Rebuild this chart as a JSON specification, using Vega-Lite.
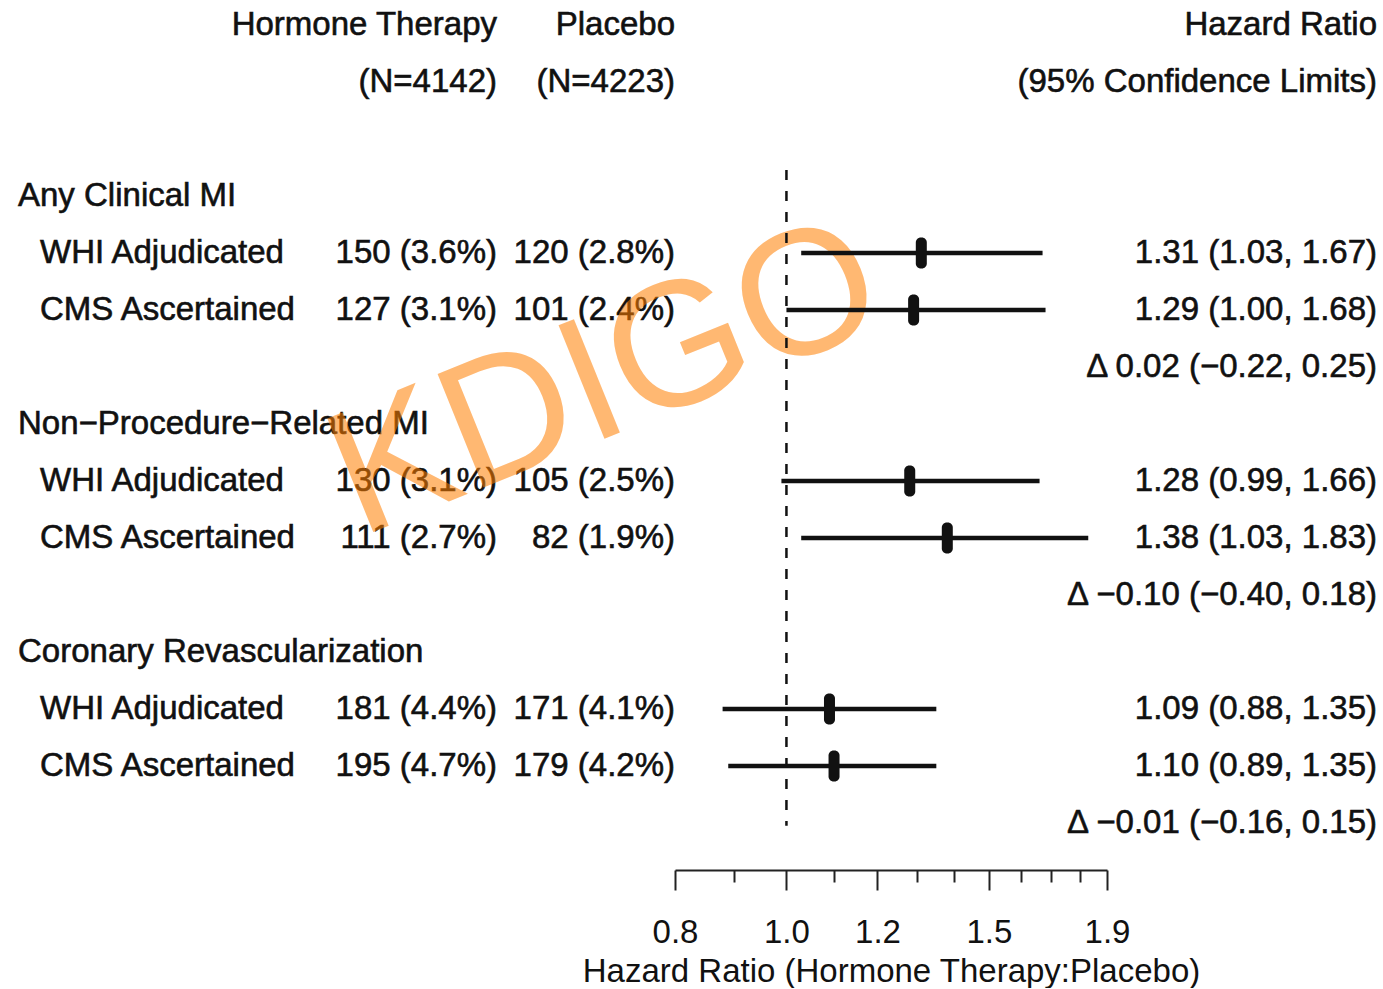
{
  "$schema": "https://vega.github.io/schema/vega-lite/v6.json",
  "background": "white",
  "padding": {"left": 18, "top": 0, "right": 6, "bottom": 0},
  "spacing": 0,
  "bounds": "flush",
  "config": {
    "view": {"stroke": null},
    "text": {"font": "Liberation Sans", "fontSize": 33, "color": "#111111", "baseline": "middle", "stroke": "#111111", "strokeWidth": 0.6},
    "axis": {
      "labelFont": "Liberation Sans",
      "titleFont": "Liberation Sans"
    }
  },
  "datasets": {
    "rows": [
      {"row": 0, "kind": "header", "ht": "Hormone Therapy", "pl": "Placebo", "hr": "Hazard Ratio"},
      {"row": 1, "kind": "header", "ht": "(N=4142)", "pl": "(N=4223)", "hr": "(95% Confidence Limits)"},
      {"row": 3, "kind": "group", "label": "Any Clinical MI"},
      {"row": 4, "kind": "sub", "label": "WHI Adjudicated", "ht": "150 (3.6%)", "pl": "120 (2.8%)", "hr": "1.31 (1.03, 1.67)", "est": 1.31, "lo": 1.03, "hi": 1.67},
      {"row": 5, "kind": "sub", "label": "CMS Ascertained", "ht": "127 (3.1%)", "pl": "101 (2.4%)", "hr": "1.29 (1.00, 1.68)", "est": 1.29, "lo": 1.00, "hi": 1.68},
      {"row": 6, "kind": "delta", "hr": "Δ 0.02 (−0.22, 0.25)"},
      {"row": 7, "kind": "group", "label": "Non−Procedure−Related MI"},
      {"row": 8, "kind": "sub", "label": "WHI Adjudicated", "ht": "130 (3.1%)", "pl": "105 (2.5%)", "hr": "1.28 (0.99, 1.66)", "est": 1.28, "lo": 0.99, "hi": 1.66},
      {"row": 9, "kind": "sub", "label": "CMS Ascertained", "ht": "111 (2.7%)", "pl": "82 (1.9%)", "hr": "1.38 (1.03, 1.83)", "est": 1.38, "lo": 1.03, "hi": 1.83},
      {"row": 10, "kind": "delta", "hr": "Δ −0.10 (−0.40, 0.18)"},
      {"row": 11, "kind": "group", "label": "Coronary Revascularization"},
      {"row": 12, "kind": "sub", "label": "WHI Adjudicated", "ht": "181 (4.4%)", "pl": "171 (4.1%)", "hr": "1.09 (0.88, 1.35)", "est": 1.09, "lo": 0.88, "hi": 1.35},
      {"row": 13, "kind": "sub", "label": "CMS Ascertained", "ht": "195 (4.7%)", "pl": "179 (4.2%)", "hr": "1.10 (0.89, 1.35)", "est": 1.10, "lo": 0.89, "hi": 1.35},
      {"row": 14, "kind": "delta", "hr": "Δ −0.01 (−0.16, 0.15)"}
    ],
    "watermark": [{"mark": "KDIGO"}]
  },
  "data": {"name": "rows"},
  "hconcat": [
    {
      "width": 300,
      "height": 870,
      "layer": [
        {
          "transform": [{"filter": "datum.kind === 'group'"}],
          "mark": {"type": "text", "align": "left"},
          "encoding": {
            "text": {"field": "label"},
            "x": {"datum": "start", "type": "nominal", "scale": {"type": "point", "domain": ["start"], "padding": 0, "align": 0}, "axis": null},
            "y": {"field": "row", "type": "quantitative", "scale": {"domain": [-0.4386, 14.825], "nice": false, "zero": false, "reverse": true}, "axis": null}
          }
        },
        {
          "transform": [{"filter": "datum.kind === 'sub'"}],
          "mark": {"type": "text", "align": "left", "dx": 22},
          "encoding": {
            "text": {"field": "label"},
            "x": {"datum": "start", "type": "nominal", "scale": {"type": "point", "domain": ["start"], "padding": 0, "align": 0}, "axis": null},
            "y": {"field": "row", "type": "quantitative", "scale": {"domain": [-0.4386, 14.825], "nice": false, "zero": false, "reverse": true}, "axis": null}
          }
        }
      ]
    },
    {
      "width": 179,
      "height": 870,
      "transform": [{"filter": "isValid(datum.ht)"}],
      "mark": {"type": "text", "align": "right"},
      "encoding": {
        "text": {"field": "ht"},
        "x": {"datum": "end", "type": "nominal", "scale": {"type": "point", "domain": ["end"], "padding": 0, "align": 1}, "axis": null},
        "y": {"field": "row", "type": "quantitative", "scale": {"domain": [-0.4386, 14.825], "nice": false, "zero": false, "reverse": true}, "axis": null}
      }
    },
    {
      "width": 178,
      "height": 870,
      "layer": [
        {
          "transform": [{"filter": "isValid(datum.pl)"}],
          "mark": {"type": "text", "align": "right"},
          "encoding": {
            "text": {"field": "pl"},
            "x": {"datum": "end", "type": "nominal", "scale": {"type": "point", "domain": ["end"], "padding": 0, "align": 1}, "axis": null},
            "y": {"field": "row", "type": "quantitative", "scale": {"domain": [-0.4386, 14.825], "nice": false, "zero": false, "reverse": true}, "axis": null}
          }
        },
        {
          "data": {"name": "watermark"},
          "mark": {"type": "text", "align": "center", "baseline": "middle", "fontSize": 178, "angle": -22, "color": "#ff7f00", "stroke": null, "strokeWidth": 0, "opacity": 0.55, "font": "Liberation Sans"},
          "encoding": {
            "text": {"field": "mark"},
            "x": {"datum": "KDIGO", "type": "nominal", "scale": {"type": "point", "domain": ["KDIGO"], "padding": 0, "align": 0.612}, "axis": null},
            "y": {"datum": 6.245, "type": "quantitative"}
          }
        }
      ],
      "resolve": {"scale": {"x": "independent"}}
    },
    {
      "width": 432,
      "height": 870,
      "layer": [
        {
          "data": {"values": [{"hr": 1}]},
          "mark": {"type": "rule", "strokeDash": [10, 11], "strokeWidth": 2.5, "color": "#111111"},
          "encoding": {
            "x": {"field": "hr", "type": "quantitative", "title": "Hazard Ratio (Hormone Therapy:Placebo)"},
            "y": {"datum": 2.544, "type": "quantitative", "scale": {"domain": [-0.4386, 14.825], "nice": false, "zero": false, "reverse": true}, "axis": null},
            "y2": {"datum": 14.05}
          }
        },
        {
          "transform": [{"filter": "isValid(datum.est)"}],
          "mark": {"type": "rule", "strokeWidth": 4.5, "color": "#111111"},
          "encoding": {
            "x": {
              "field": "lo", "type": "quantitative",
              "title": "Hazard Ratio (Hormone Therapy:Placebo)",
              "scale": {"type": "log", "domain": [0.8, 1.9], "nice": false, "zero": false},
              "axis": {
                "values": [0.8, 0.9, 1.0, 1.1, 1.2, 1.3, 1.4, 1.5, 1.6, 1.7, 1.8, 1.9],
                "labelExpr": "indexof([8,10,12,15,19], round(datum.value*10)) >= 0 ? format(datum.value, '.1f') : ''",
                "tickSize": {"condition": {"test": "indexof([8,10,12,15,19], round(datum.value*10)) >= 0", "value": 20}, "value": 12},
                "grid": false,
                "domainColor": "#222222",
                "domainWidth": 2,
                "tickColor": "#222222",
                "tickWidth": 2,
                "labelFontSize": 33,
                "labelColor": "#111111",
                "labelPadding": 26,
                "labelOverlap": false,
                "labelFlush": false,
                "titleFontSize": 33,
                "titleFontWeight": "normal",
                "titleColor": "#111111",
                "titlePadding": 6
              }
            },
            "x2": {"field": "hi"},
            "y": {"field": "row", "type": "quantitative"}
          }
        },
        {
          "transform": [{"filter": "isValid(datum.est)"}],
          "mark": {"type": "tick", "orient": "vertical", "thickness": 11, "size": 31, "cornerRadius": 5, "color": "#111111", "opacity": 1},
          "encoding": {
            "x": {"field": "est", "type": "quantitative", "title": "Hazard Ratio (Hormone Therapy:Placebo)"},
            "y": {"field": "row", "type": "quantitative"}
          }
        }
      ]
    },
    {
      "width": 270,
      "height": 870,
      "transform": [{"filter": "isValid(datum.hr)"}],
      "mark": {"type": "text", "align": "right"},
      "encoding": {
        "text": {"field": "hr"},
        "x": {"datum": "end", "type": "nominal", "scale": {"type": "point", "domain": ["end"], "padding": 0, "align": 1}, "axis": null},
        "y": {"field": "row", "type": "quantitative", "scale": {"domain": [-0.4386, 14.825], "nice": false, "zero": false, "reverse": true}, "axis": null}
      }
    }
  ]
}
